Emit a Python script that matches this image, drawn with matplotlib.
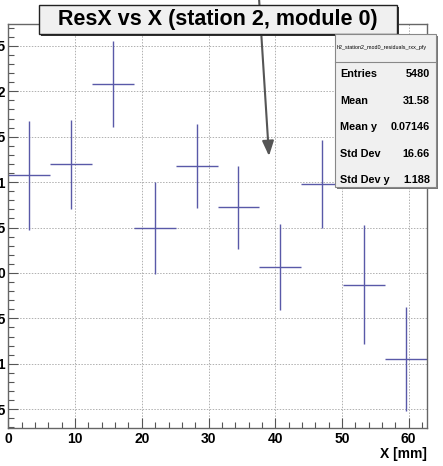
import matplotlib
matplotlib.use("Agg")
import matplotlib.pyplot as plt
from matplotlib.patches import Rectangle
from matplotlib.ticker import MultipleLocator

# profile points
x_centers = [3.14, 9.41, 15.68, 21.95, 28.22, 34.49, 40.76, 47.03, 53.30, 59.57]
x_halfwidth = [3.135] * 10
y_values = [0.1074, 0.1195, 0.2078, 0.0497, 0.1180, 0.0724, 0.0063, 0.0980, -0.0128, -0.0942]
y_errors = [0.0597, 0.0490, 0.0470, 0.0505, 0.0465, 0.0457, 0.0473, 0.0480, 0.0653, 0.0572]

title = "ResX vs X (station 2, module 0)"
stat_name = "h2_station2_mod0_residuals_rxx_pfy"
stat_labels = ["Entries", "Mean", "Mean y", "Std Dev", "Std Dev y"]
stat_values = ["5480", "31.58", "0.07146", "16.66", "1.188"]

W, H = 443, 466
plt.rcParams['font.family'] = ['Liberation Sans', 'DejaVu Sans']

fig = plt.figure(figsize=(W / 100, H / 100), dpi=100)


def fx(px):
    return px / W


def fy(py):
    return 1 - py / H


ax = fig.add_axes([fx(8.4), fy(428), fx(426.7) - fx(8.4), fy(24) - fy(428)])
ax.errorbar(x_centers, y_values, xerr=x_halfwidth, yerr=y_errors, fmt='none',
            ecolor='#5959a8', elinewidth=1.0, capsize=0)
ax.set_xlim(0, 62.7)
ax.set_ylim(-0.1706, 0.274)

ax.xaxis.set_major_locator(MultipleLocator(10))
ax.xaxis.set_minor_locator(MultipleLocator(2))
ax.yaxis.set_major_locator(MultipleLocator(0.05))
ax.yaxis.set_minor_locator(MultipleLocator(0.01))
ax.tick_params(which='both', direction='in', top=False, right=False, color='#555555', width=0.8)
ax.tick_params(which='major', length=7, labelsize=10, pad=3)
ax.tick_params(which='minor', length=4)
ax.tick_params(axis='y', which='major', pad=2)
for lab in ax.get_xticklabels():
    lab.set_fontweight('bold')
ax.set_yticklabels([("%g" % v).replace('-', '\u2212') for v in ax.get_yticks()])
for lab in ax.get_yticklabels():
    lab.set_fontweight('bold')
for s in ax.spines.values():
    s.set_color('#666666')
    s.set_linewidth(1.0)
ax.grid(True, which='major', color='#b0b0b0', linestyle=(0, (1.5, 1.5)), linewidth=0.7)
ax.set_axisbelow(True)

fig.text(fx(426.7), fy(454), "X [mm]", ha='right', va='center', fontsize=10, fontweight='bold')

# title box with shadow
fig.patches.append(Rectangle((fx(41), fy(36)), fx(397) - fx(39), fy(5) - fy(34),
                             transform=fig.transFigure, facecolor='#333333', edgecolor='none', zorder=5))
fig.patches.append(Rectangle((fx(39), fy(34)), fx(397) - fx(39), fy(5) - fy(34),
                             transform=fig.transFigure, facecolor='#f0f0f0', edgecolor='#222222',
                             linewidth=1.0, zorder=6))
fig.text(fx(218), fy(19.5), title, ha='center', va='center', fontsize=15.5,
         fontweight='bold', zorder=7)

# stats box
bx0, bx1, by0, by1 = 335, 436, 34, 187
fig.patches.append(Rectangle((fx(bx0 + 2), fy(by1 + 2)), fx(bx1) - fx(bx0), fy(by0) - fy(by1),
                             transform=fig.transFigure, facecolor='#777777', edgecolor='none', zorder=5))
fig.patches.append(Rectangle((fx(bx0), fy(by1)), fx(bx1) - fx(bx0), fy(by0) - fy(by1),
                             transform=fig.transFigure, facecolor='#f0f0f0', edgecolor='#888888',
                             linewidth=0.8, zorder=6))
fig.lines.append(plt.Line2D([fx(bx0), fx(bx1)], [fy(62), fy(62)], transform=fig.transFigure,
                            color='#888888', linewidth=0.8, zorder=7))
fig.text(fx(bx0 + 2), fy(48), stat_name, ha='left', va='center', fontsize=3.9, zorder=7)
row_y = [74, 101, 127, 154, 180]
for lab, val, ry in zip(stat_labels, stat_values, row_y):
    fig.text(fx(bx0 + 5), fy(ry), lab, ha='left', va='center', fontsize=7.8, fontweight='bold', zorder=7)
    fig.text(fx(bx1 - 6), fy(ry), val, ha='right', va='center', fontsize=7.8, fontweight='bold', zorder=7)

# arrow
ax.annotate('', xy=(269, H - 156), xytext=(259, H + 2), xycoords='figure pixels',
            textcoords='figure pixels', annotation_clip=False,
            arrowprops=dict(arrowstyle='-|>,head_length=0.9,head_width=0.35', color='#555555',
                            lw=1.5, shrinkA=0, shrinkB=0), zorder=8)

fig.savefig("out.png", dpi=100)
